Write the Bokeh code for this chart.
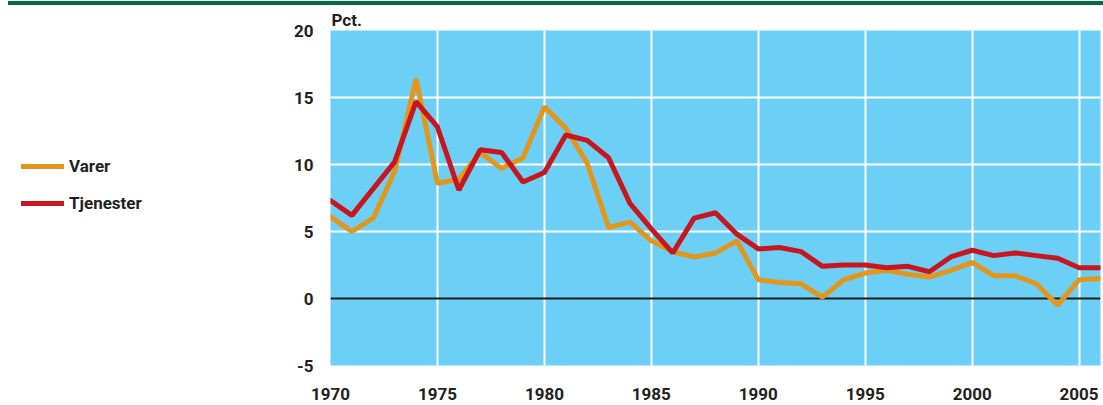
from bokeh.plotting import figure
from bokeh.models import (Range1d, FixedTicker, Span, Legend, LegendItem, Title)
from bokeh.layouts import row
from bokeh.embed import file_html
from bokeh.resources import INLINE

years = list(range(1970, 2007))
varer = [6.1, 5.0, 6.0, 9.5, 16.4, 8.6, 8.9, 10.9, 9.7, 10.5, 14.3, 12.7, 10.1, 5.3, 5.7,
         4.3, 3.5, 3.1, 3.4, 4.3, 1.4, 1.2, 1.1, 0.1, 1.4, 1.9, 2.1, 1.8, 1.6, 2.1,
         2.7, 1.7, 1.7, 1.1, -0.5, 1.4, 1.5]
tjenester = [7.3, 6.2, 8.2, 10.2, 14.7, 12.8, 8.1, 11.1, 10.9, 8.7, 9.4, 12.2, 11.8, 10.5, 7.1,
             5.2, 3.4, 6.0, 6.4, 4.8, 3.7, 3.8, 3.5, 2.4, 2.5, 2.5, 2.3, 2.4, 2.0, 3.1,
             3.6, 3.2, 3.4, 3.2, 3.0, 2.3, 2.3]
series_names = ["Varer", "Tjenester"]
x_ticks = [1970, 1975, 1980, 1985, 1990, 1995, 2000, 2005]
y_ticks = [-5, 0, 5, 10, 15, 20]
y_tick_labels = ["-5", "0", "5", "10", "15", "20"]
unit_label = "Pct."

FONT = "Roboto, sans-serif"
TXT = "#231f20"
ORANGE = "#e2961c"
RED = "#c8161e"
BG = "#6ccff6"
FS = "17px"

# ---- main chart ----
p = figure(width=813, height=405, output_backend="svg", toolbar_location=None,
           x_range=Range1d(1970, 2006), y_range=Range1d(-5, 20),
           min_border_left=40, min_border_right=3, min_border_top=30, min_border_bottom=40)
p.background_fill_color = BG
p.border_fill_alpha = 0
p.outline_line_color = None

p.title = Title(text=unit_label, align="left", offset=1, standoff=2,
                text_font=FONT, text_font_style="bold", text_font_size=FS,
                text_color=TXT)

for ax in (p.xaxis[0], p.yaxis[0]):
    ax.axis_line_color = None
    ax.major_tick_line_color = None
    ax.minor_tick_line_color = None
    ax.major_label_text_font = FONT
    ax.major_label_text_font_style = "bold"
    ax.major_label_text_font_size = FS
    ax.major_label_text_color = TXT
p.xaxis[0].ticker = FixedTicker(ticks=x_ticks)
p.yaxis[0].ticker = FixedTicker(ticks=y_ticks)
p.yaxis[0].major_label_overrides = dict(zip(y_ticks, y_tick_labels))
p.xaxis[0].major_label_standoff = 16
p.yaxis[0].major_label_standoff = 11

p.xgrid[0].ticker = FixedTicker(ticks=x_ticks[1:])
p.ygrid[0].ticker = FixedTicker(ticks=y_ticks[2:-1])
for g in (p.xgrid[0], p.ygrid[0]):
    g.grid_line_color = "white"
    g.grid_line_width = 2
    g.grid_line_alpha = 1

zero = Span(location=0, dimension="width", line_color="#1a1a1a", line_width=2, level="underlay")
p.add_layout(zero)

p.line(years, varer, line_color=ORANGE, line_width=5, line_cap="round")
p.line(years, tjenester, line_color=RED, line_width=5, line_cap="round")

# ---- legend panel (its key lines lie outside its own view) ----
lg = figure(width=290, height=405, output_backend="svg", toolbar_location=None,
            x_axis_type=None, y_axis_type=None,
            x_range=Range1d(0, 1), y_range=Range1d(0, 1),
            min_border_left=0, min_border_right=0, min_border_top=0, min_border_bottom=0)
lg.grid.visible = False
lg.outline_line_color = None
lg.background_fill_alpha = 0
lg.border_fill_alpha = 0
k1 = lg.line(years, varer, line_color=ORANGE, line_width=5, line_cap="round")
k2 = lg.line(years, tjenester, line_color=RED, line_width=5, line_cap="round")
legend = Legend(items=[LegendItem(label=series_names[0], renderers=[k1]),
                       LegendItem(label=series_names[1], renderers=[k2])],
                location=(21, 152), orientation="vertical",
                glyph_width=43, glyph_height=20, label_standoff=5, spacing=17,
                padding=0, margin=0, border_line_color=None, background_fill_alpha=0,
                label_text_font=FONT, label_text_font_style="bold",
                label_text_font_size=FS, label_text_color=TXT, label_height=20)
lg.add_layout(legend, "center")

layout = row(lg, p, spacing=0)
layout.stylesheets = [":host { background: linear-gradient(#006b44, #006b44) 8px 1px / calc(100% - 8px) 4px no-repeat, #ffffff; }"]

open("out.html", "w").write(file_html(layout, INLINE))
